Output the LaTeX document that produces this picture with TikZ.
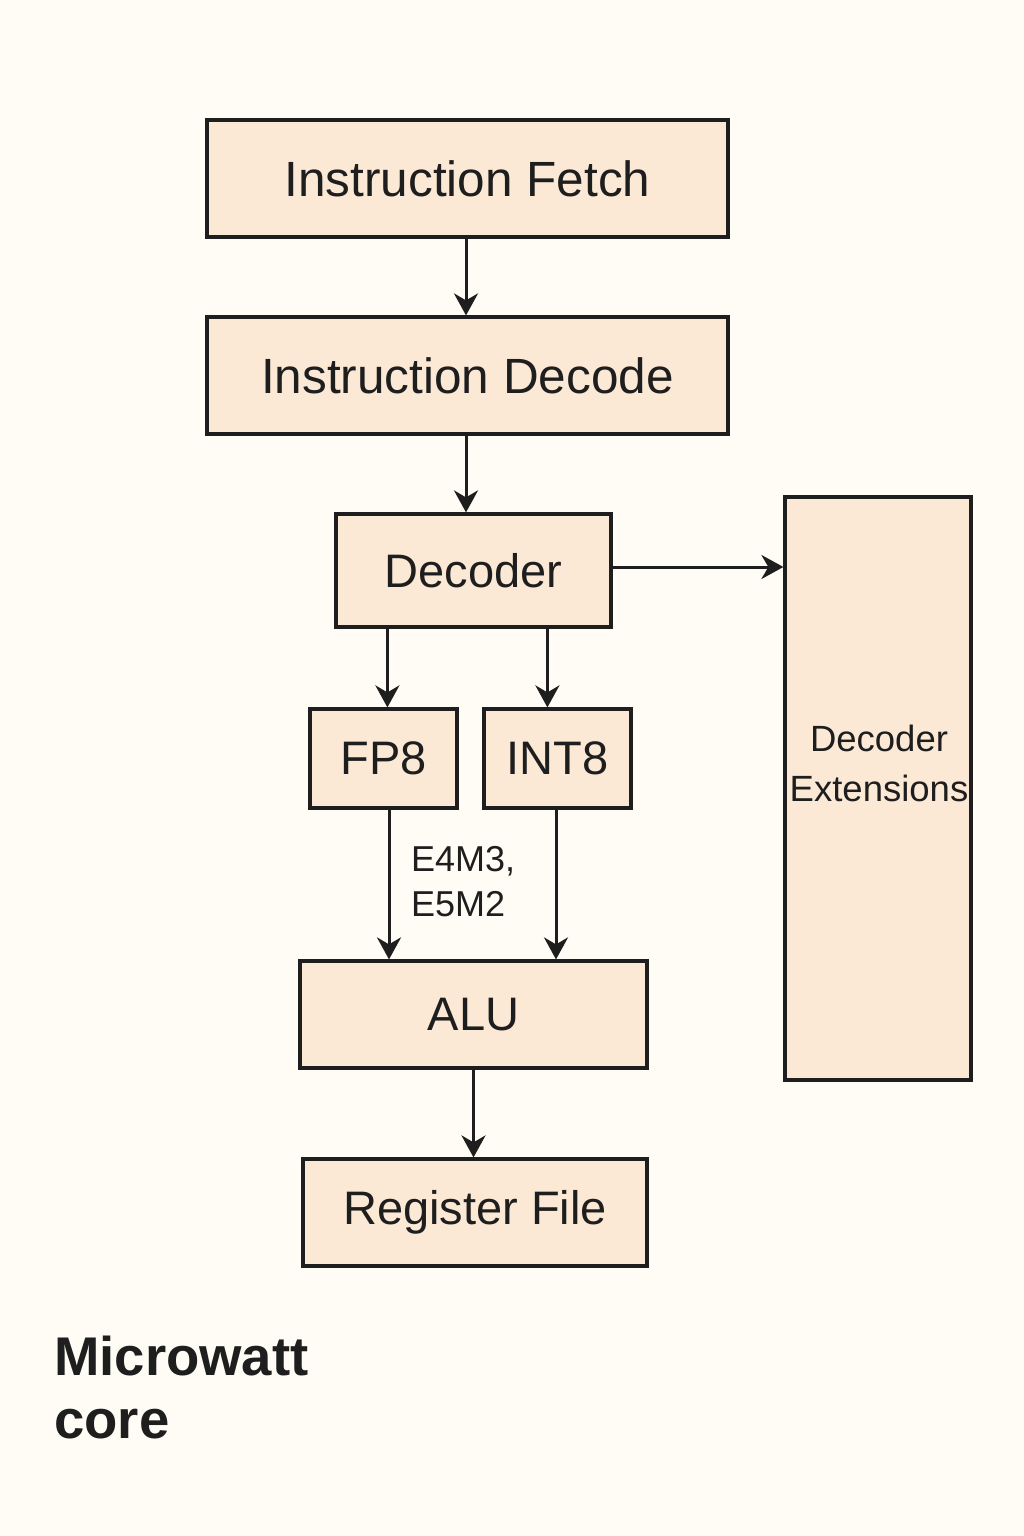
\documentclass[tikz,border=0pt]{standalone}
\usepackage{fontspec}
\setmainfont{Liberation Sans}
\usetikzlibrary{arrows.meta}
\definecolor{bgc}{HTML}{FEFCF4}
\definecolor{boxfill}{HTML}{FBE9D6}
\definecolor{ink}{HTML}{1E1E1E}
\begin{document}
\begin{tikzpicture}[x=1pt,y=-1pt,
  blk/.style={draw=ink,line width=3.2pt,fill=boxfill,text=ink,inner sep=0pt,
    font=\fontsize{47}{56}\selectfont},
  bigtext/.style={font=\fontsize{49.5}{58}\selectfont},
  conn/.style={draw=ink,line width=3pt,-{Stealth[length=22pt,width=24pt,inset=7pt]}},
  lbl/.style={text=ink,inner sep=0pt,align=left}]
\fill[bgc] (0,0) rectangle (1024,1536);
\useasboundingbox (0,0) rectangle (1024,1536);

\node[blk,bigtext,minimum width=521pt,minimum height=117pt] (fetch) at (467.5,178.5) {Instruction Fetch};
\node[blk,bigtext,minimum width=521pt,minimum height=117pt] (decode) at (467.5,375.5) {Instruction Decode};
\node[blk,minimum width=275pt,minimum height=113pt] (decoder) at (473.5,570.5) {Decoder};
\node[blk,minimum width=147pt,minimum height=99pt] (fp8) at (383.5,758.5) {FP8};
\node[blk,minimum width=147pt,minimum height=99pt] (int8) at (557.5,758.5) {INT8};
\node[blk,minimum width=347pt,minimum height=107pt] (alu) at (473.5,1014.5) {ALU};
\node[blk,minimum width=344pt,minimum height=107pt] (regfile) at (475,1212.5) {Register File};
\node[blk,minimum width=186pt,minimum height=583pt] (ext) at (878,788.5) {};
\node[lbl,align=center,font=\fontsize{36.5}{50}\selectfont] (extlabel) at (879,763) {Decoder\\Extensions};

\node[lbl,anchor=west,font=\fontsize{36}{45}\selectfont] (fmt) at (411,882) {E4M3,\\E5M2};
\node[lbl,anchor=west,font=\fontsize{54.5}{63}\selectfont\bfseries] (title) at (54,1388) {Microwatt\\core};

\draw[conn] ([xshift=-1.5pt]fetch.south) -- ([xshift=-1.5pt]fetch.south |- decode.north);
\draw[conn] ([xshift=-1.5pt]decode.south) -- ([xshift=-1.5pt]decode.south |- decoder.north);
\draw[conn] ([xshift=53pt]decoder.south west) -- ([xshift=53pt]decoder.south west |- fp8.north);
\draw[conn] ([xshift=213pt]decoder.south west) -- ([xshift=213pt]decoder.south west |- int8.north);
\draw[conn] ([xshift=5.5pt]fp8.south) -- ([xshift=5.5pt]fp8.south |- alu.north);
\draw[conn] ([xshift=-1.5pt]int8.south) -- ([xshift=-1.5pt]int8.south |- alu.north);
\draw[conn] (alu.south) -- (alu.south |- regfile.north);
\draw[conn] ([yshift=3.5pt]decoder.east) -- ([yshift=3.5pt]decoder.east -| ext.west);
\end{tikzpicture}
\end{document}
